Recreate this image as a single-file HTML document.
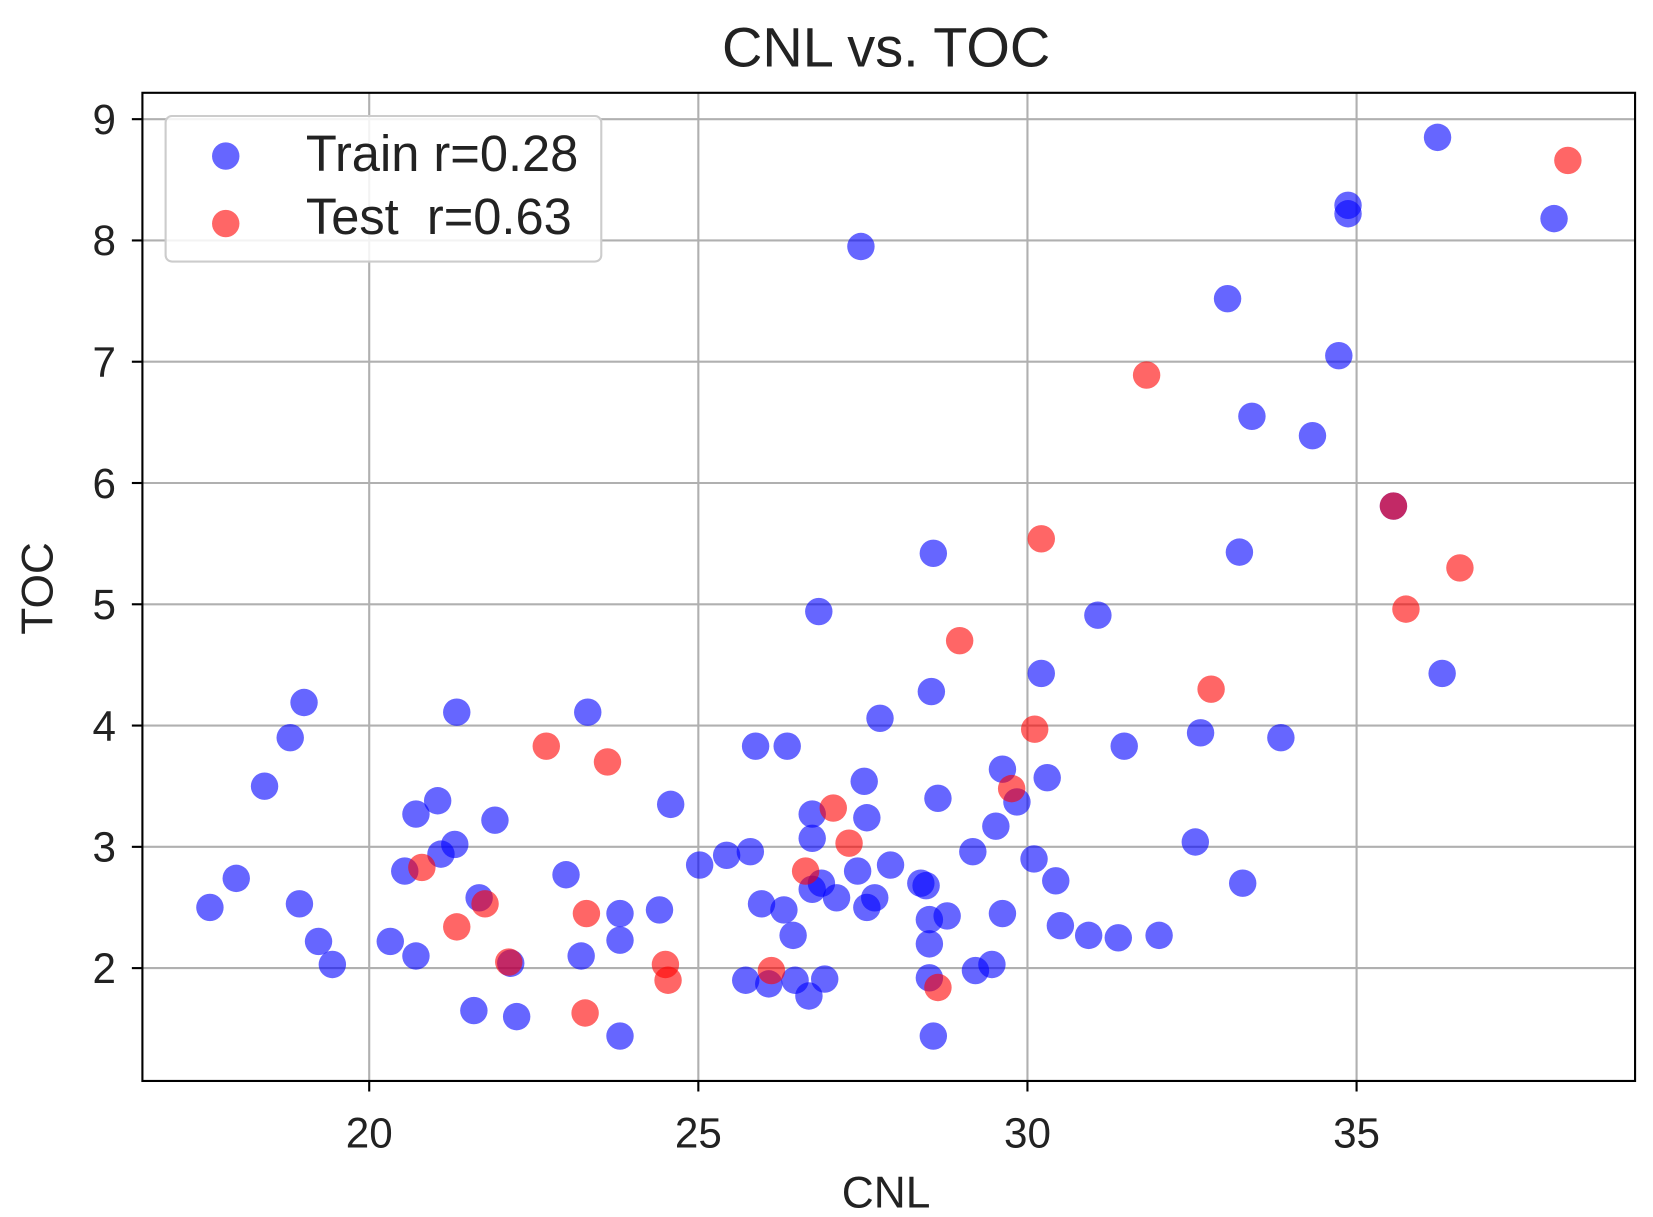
<!DOCTYPE html>
<html><head><meta charset="utf-8"><style>
html,body{margin:0;padding:0;background:#fff}
svg{display:block;font-family:"Liberation Sans","DejaVu Sans",sans-serif}
</style></head><body>
<svg id="chart" width="1653" height="1217" viewBox="0 0 1567 1154" preserveAspectRatio="none">
<rect width="1567" height="1154" fill="#fff"/>
<text x="840" y="63" font-size="53" text-anchor="middle" fill="#222">CNL vs. TOC</text>
<g id="grid"></g>
<g id="ticks"></g>
<g id="points"></g>
<rect x="135" y="88" width="1415" height="937" fill="none" stroke="#000" stroke-width="2"/>
<text x="840" y="1145" font-size="42" text-anchor="middle" fill="#222">CNL</text>
<text x="50" y="558" font-size="42" text-anchor="middle" fill="#222" transform="rotate(-90 50 558)">TOC</text>
<g>
<rect x="157" y="110" width="413" height="138" rx="6" fill="#fff" fill-opacity="0.85" stroke="#ccc" stroke-width="2"/>
<circle cx="214" cy="148" r="13" fill="rgba(0,0,255,0.6)"/>
<text x="290" y="162" font-size="48" fill="#222">Train r=0.28</text>
<circle cx="214" cy="212" r="13" fill="rgba(255,0,0,0.6)"/>
<text x="290" y="222" font-size="48" fill="#222" xml:space="preserve">Test  r=0.63</text>
</g>
</svg>
<script>
const xTicks=[20,25,30,35];
const yTicks=[2,3,4,5,6,7,8,9];
const trainX=[17.58,17.98,18.41,18.80,19.01,18.94,19.23,19.44,20.32,20.71,20.54,20.71,21.04,21.09,21.30,21.33,21.59,21.67,21.91,22.15,22.24,22.99,23.22,23.32,23.81,23.81,23.81,24.41,24.58,25.02,25.43,25.79,25.72,25.87,25.96,26.07,26.30,26.35,26.44,26.47,26.68,26.73,26.73,26.73,26.87,26.92,26.83,27.10,27.47,27.52,27.56,27.42,27.56,27.68,27.76,27.92,28.38,28.46,28.51,28.51,28.51,28.54,28.57,28.57,28.64,28.78,29.17,29.21,29.46,29.52,29.62,29.62,29.84,30.10,30.21,30.30,30.43,30.50,30.93,31.07,31.38,31.47,32.00,32.55,32.63,33.04,33.22,33.27,33.41,33.85,34.33,34.73,34.87,34.87,35.56,36.23,36.30,38.00];
const trainY=[2.50,2.74,3.50,3.90,4.19,2.53,2.22,2.03,2.22,2.10,2.80,3.27,3.38,2.94,3.02,4.11,1.65,2.58,3.22,2.04,1.60,2.77,2.10,4.11,2.45,2.23,1.44,2.48,3.35,2.85,2.93,2.96,1.90,3.83,2.53,1.87,2.48,3.83,2.27,1.90,1.77,3.27,3.07,2.65,2.70,1.91,4.94,2.58,7.95,3.54,3.24,2.80,2.50,2.58,4.06,2.85,2.70,2.68,2.20,2.40,1.92,4.28,5.42,1.44,3.40,2.43,2.96,1.98,2.03,3.17,3.64,2.45,3.37,2.90,4.43,3.57,2.72,2.35,2.27,4.91,2.25,3.83,2.27,3.04,3.94,7.52,5.43,2.70,6.55,3.90,6.39,7.05,8.29,8.22,5.81,8.85,4.43,8.18];
const testX=[38.21,31.81,30.21,28.97,35.56,36.57,35.75,32.79,30.11,29.76,22.69,23.62,27.05,27.29,26.63,20.80,21.76,21.33,23.30,22.12,24.50,24.54,26.11,28.64,23.28];
const testY=[8.66,6.89,5.54,4.70,5.81,5.30,4.96,4.30,3.97,3.48,3.83,3.70,3.32,3.03,2.80,2.83,2.53,2.34,2.45,2.05,2.03,1.90,1.98,1.84,1.63];
const NS='http://www.w3.org/2000/svg';
function sx(v){return 350+(v-20)*62.4;}
function sy(v){return 918-(v-2)*115;}
function mk(tag,attrs,parent){const e=document.createElementNS(NS,tag);for(const k in attrs)e.setAttribute(k,attrs[k]);parent.appendChild(e);return e;}
const grid=document.getElementById('grid'),ticks=document.getElementById('ticks'),pts=document.getElementById('points');
xTicks.forEach(t=>{
  const g=mk('line',{x1:sx(t),x2:sx(t),y1:88,y2:1025,stroke:'#b0b0b0','stroke-width':2},grid);
  
  
  const tk=mk('line',{x1:sx(t),x2:sx(t),y1:1025,y2:1035,stroke:'#000','stroke-width':2},ticks);
  
  
  const tx=mk('text',{x:sx(t),y:1088,'font-size':40,'text-anchor':'middle',fill:'#222'},ticks);
  tx.textContent=t;
  
  
});
yTicks.forEach(t=>{
  const g=mk('line',{x1:135,x2:1550,y1:sy(t),y2:sy(t),stroke:'#b0b0b0','stroke-width':2},grid);
  
  
  const tk=mk('line',{x1:125,x2:135,y1:sy(t),y2:sy(t),stroke:'#000','stroke-width':2},ticks);
  
  
  const tx=mk('text',{x:110,y:sy(t)+14,'font-size':40,'text-anchor':'end',fill:'#222'},ticks);
  tx.textContent=t;
  
  
});
trainX.forEach((v,i)=>{
  const c=mk('circle',{cx:sx(v),cy:sy(trainY[i]),r:13,fill:'rgba(0,0,255,0.6)'},pts);
  
  
});
testX.forEach((v,i)=>{
  const c=mk('circle',{cx:sx(v),cy:sy(testY[i]),r:13,fill:'rgba(255,0,0,0.6)'},pts);
  
  
});
</script>
</body></html>
